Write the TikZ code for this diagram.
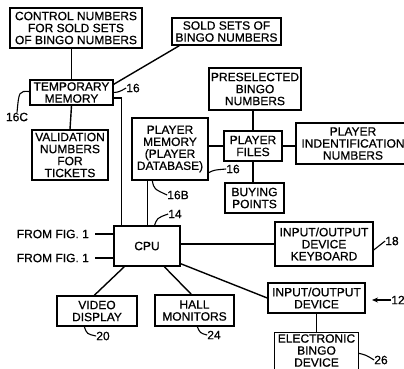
\documentclass[tikz,border=0pt]{standalone}
\usepackage{fontspec}
\setmainfont{Liberation Sans}[FakeBold=0.8]
\usetikzlibrary{calc,arrows.meta}
\begin{document}
\begin{tikzpicture}[x=1pt,y=-1pt,
  box/.style={draw, line width=1.4pt, align=center, inner sep=0pt, font=\fontsize{12}{12}\selectfont},
  lbl/.style={inner sep=0pt, font=\fontsize{12}{12}\selectfont},
  wire/.style={line width=1.4pt},
  lead/.style={line width=1.1pt}]
\clip (0,0) rectangle (404,368);
\useasboundingbox (0,0) rectangle (404,368);
% boxes
\node[box, minimum width=132, minimum height=40] (ctrl) at (76,28) {CONTROL NUMBERS\\FOR SOLD SETS\\OF BINGO NUMBERS};
\node[box, minimum width=109, minimum height=27] (sold) at (226.5,31.5) {SOLD SETS OF\\BINGO NUMBERS};
\node[box, minimum width=83, minimum height=25] (temp) at (71.5,92.5) {TEMPORARY\\MEMORY};
\node[box, minimum width=76, minimum height=50] (valid) at (70,155) {VALIDATION\\NUMBERS\\FOR\\TICKETS};
\node[box, minimum width=76, minimum height=62] (pmem) at (170,149) {PLAYER\\MEMORY\\(PLAYER\\DATABASE)};
\node[box, minimum width=92, minimum height=42] (presel) at (255,89) {PRESELECTED\\BINGO\\NUMBERS};
\node[box, minimum width=58, minimum height=30] (pfiles) at (253,146) {PLAYER\\FILES};
\node[box, minimum width=114, minimum height=41] (pid) at (353,143.5) {PLAYER\\INDENTIFICATION\\NUMBERS};
\node[box, minimum width=59, minimum height=30] (buy) at (254.5,198) {BUYING\\POINTS};
\node[box, minimum width=66, minimum height=40] (cpu) at (147,246) {CPU};
\node[box, minimum width=98, minimum height=44] (iokb) at (324,244) {INPUT/OUTPUT\\DEVICE\\KEYBOARD};
\node[box, minimum width=97, minimum height=30] (iodev) at (316.5,298) {INPUT/OUTPUT\\DEVICE};
\node[box, draw=none, minimum width=83, minimum height=35] (ebingo) at (316.5,350.5) {ELECTRONIC\\BINGO\\DEVICE};
\draw[wire] ($(ebingo.south west)+(0,3)$) -- (ebingo.north west) -- (ebingo.north east) -- ($(ebingo.south east)+(0,3)$);
\node[box, minimum width=80, minimum height=30] (video) at (97,311) {VIDEO\\DISPLAY};
\node[box, minimum width=79, minimum height=31] (hall) at (194.5,310.5) {HALL\\MONITORS};
% from fig labels
\node[lbl, anchor=east] (f1) at (89,234) {FROM FIG. 1};
\node[lbl, anchor=east] (f2) at (89,258) {FROM FIG. 1};
\coordinate (f1e) at (95,234);
\coordinate (f2e) at (95,258);
% connectors
\draw[wire] (temp.north) -- (temp.north |- ctrl.south);
\draw[wire] ($(sold.south west)+(8,0)$) -- ($(temp.north east)+(0,5)$);
\draw[wire] (temp.south) -- (valid.north);
\draw[wire] ($(temp.east)+(0,5.5)$) -| ($(cpu.north west)+(8,0)$);
\draw[wire] ($(pmem.south west)+(16,0)$) -- ($(cpu.north west)+(34,0)$);
\draw[wire] (pfiles.west) -- (pfiles.west -| pmem.east);
\draw[wire] (pfiles.north) -- (pfiles.north |- presel.south);
\draw[wire] (pfiles.east) -- (pfiles.east -| pid.west);
\draw[wire] (pfiles.south) -- (pfiles.south |- buy.north);
\draw[wire] (iokb.west -| cpu.east) -- (iokb.west);
\draw[wire] ($(cpu.south east)+(0,-3)$) -- (iodev.west);
\draw[wire] ($(cpu.south west)+(11,0)$) -- ($(video.north west)+(38,0)$);
\draw[wire] ($(cpu.south west)+(51,0)$) -- ($(hall.north west)+(37,0)$);
\draw[wire] (iodev.south) -- (ebingo.north);
\draw[wire] (f1e) -- (f1e -| cpu.west);
\draw[wire] (f2e) -- (f2e -| cpu.west);
% reference labels
\node[lbl] (l16a) at (133,88) {16};
\draw[lead] ($(temp.east)+(0,0)$) .. controls (119,92) .. (l16a.west);
\node[lbl] (l16c) at (17,117) {16C};
\draw[lead] ($(temp.west)+(0,-1)$) .. controls (19,91) .. (l16c.north);
\node[lbl] (l16b) at (178,195) {16B};
\draw[lead] ($(pmem.south west)+(21,0)$) .. controls (154,189) .. (l16b.west);
\node[lbl] (l16d) at (233,169) {16};
\draw[lead] ($(pmem.south east)+(0,-8)$) .. controls (214,170) .. (l16d.west);
\node[lbl] (l14) at (175,214) {14};
\draw[lead] ($(cpu.north west)+(41,1)$) .. controls (157,218) .. (l14.west);
\node[lbl] (l18) at (392,241) {18};
\draw[lead] ($(iokb.east)+(0,6)$) .. controls (379,246) .. (l18.west);
\node[lbl] (l12) at (398,300) {12};
\coordinate (a12) at (372,300);
\draw[lead, -{Stealth[length=6pt,width=5pt]}] (l12.west) -- (a12);
\node[lbl] (l20) at (103,336) {20};
\draw[lead] ($(video.south west)+(28,0)$) .. controls (87,334) .. (l20.west);
\node[lbl] (l24) at (214,335) {24};
\draw[lead] ($(hall.south west)+(43,0)$) .. controls (200,333) .. (l24.west);
\node[lbl] (l26) at (381,360) {26};
\draw[lead] ($(ebingo.north east)+(0,21)$) .. controls (366,355) .. (l26.west);
\end{tikzpicture}
\end{document}
